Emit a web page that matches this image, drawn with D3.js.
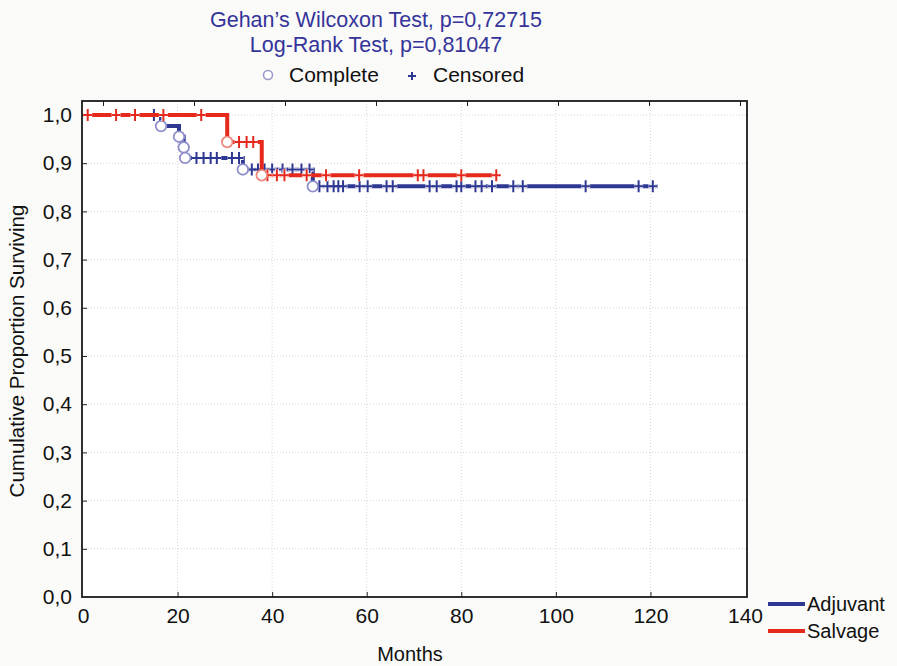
<!DOCTYPE html>
<html>
<head>
<meta charset="utf-8">
<script src="https://cdn.jsdelivr.net/npm/d3@7"></script>
<style>
  body { margin: 0; background: #fafaf8; }
  text { font-family: "Liberation Sans", Arial, sans-serif; }
</style>
</head>
<body>
<div id="chart"></div>
<script>
// Kaplan-Meier steps: [month, proportion surviving from that month on]
const adjuvantSteps = [[0, 1.0], [16.5, 0.977], [20.3, 0.955], [21.3, 0.933], [21.6, 0.911], [33.8, 0.887], [48.6, 0.852], [121.5, 0.852]];
const salvageSteps = [[0, 1.0], [30.5, 0.944], [37.8, 0.875], [87.5, 0.875]];

// complete (event) times
const adjuvantComplete = [16.5, 20.3, 21.3, 21.6, 33.8, 48.6];
const salvageComplete = [30.5, 37.8];

// censored times
const adjuvantCensored = [15, 24, 25.5, 27, 28.3, 31.5, 33, 35.7, 37, 38.4, 40, 42.2, 44.3, 46.2, 47.9,
  50, 51.7, 53, 54, 55, 58.5, 60.2, 64.2, 65.5, 73.3, 74.8, 79, 80, 83, 84.3, 86.5, 91, 93, 106.3, 117.5, 120.5];
const salvageCensored = [1, 7, 11, 17, 25, 33, 34.6, 36, 39, 41, 42.6, 47.3, 51.4, 58.4, 70.8, 72, 80, 87.4];

const xTicks = [0, 20, 40, 60, 80, 100, 120, 140];
const yTicks = [0, 0.1, 0.2, 0.3, 0.4, 0.5, 0.6, 0.7, 0.8, 0.9, 1.0];
const titles = ['Gehan\u2019s Wilcoxon Test, p=0,72715', 'Log-Rank Test, p=0,81047'];
const groups = ['Adjuvant', 'Salvage'];
const colors = { Adjuvant: '#2e3792', Salvage: '#e52a1d' };
const circleColors = { Adjuvant: '#8f8fcc', Salvage: '#ec8a80' };

const width = 897, height = 666;
const plotLeft = 82, plotRight = 747, plotTop = 101, plotBottom = 597;

const svg = d3.select('#chart')
  .append('svg')
  .attr('width', width)
  .attr('height', height);

svg.append('rect').attr('width', width).attr('height', height).attr('fill', '#fafaf8');

const x = d3.scaleLinear().domain([0, 140]).range([83, 745]);
const y = d3.scaleLinear().domain([0, 1]).range([597, 115]);

// plot background
svg.append('rect')
  .attr('x', plotLeft).attr('y', plotTop)
  .attr('width', plotRight - plotLeft).attr('height', plotBottom - plotTop)
  .attr('fill', '#ffffff');

// grid
svg.append('g')
  .selectAll('line')
  .data(yTicks.slice(1))
  .enter()
  .append('line')
  .attr('x1', plotLeft).attr('x2', plotRight)
  .attr('y1', d => y(d)).attr('y2', d => y(d))
  .attr('stroke', '#d8d8d8').attr('stroke-dasharray', '1,2');

svg.append('g')
  .selectAll('line')
  .data(xTicks.slice(1, -1))
  .enter()
  .append('line')
  .attr('y1', plotTop).attr('y2', plotBottom)
  .attr('x1', d => x(d)).attr('x2', d => x(d))
  .attr('stroke', '#d8d8d8').attr('stroke-dasharray', '1,2');

// X Axis
const xAxis = svg.append('g')
  .attr('transform', `translate(0,${plotBottom})`)
  .call(d3.axisBottom(x).tickValues(xTicks).tickSizeInner(-5).tickSizeOuter(0).tickPadding(11));
xAxis.select('.domain').remove();
xAxis.selectAll('line').attr('stroke', '#222');
xAxis.selectAll('text').attr('font-size', 21).attr('fill', '#111');
xAxis.selectAll('.tick').filter(d => d === 0 || d === 140).select('line').remove();

// Y Axis
const yAxis = svg.append('g')
  .attr('transform', `translate(${plotLeft},0)`)
  .call(d3.axisLeft(y).tickValues(yTicks).tickSizeInner(-5).tickSizeOuter(0).tickPadding(10)
    .tickFormat(d => d3.format('.1f')(d).replace('.', ',')));
yAxis.select('.domain').remove();
yAxis.selectAll('line').attr('stroke', '#222');
yAxis.selectAll('text').attr('font-size', 21).attr('fill', '#111');
yAxis.selectAll('.tick').filter(d => d === 0).select('line').remove();

// top ticks
const xTop = d3.scaleLinear().domain([0, 7]).range([103, 740]);
svg.append('g')
  .attr('transform', `translate(0,${plotTop})`)
  .call(d3.axisTop(xTop).ticks(7).tickSizeInner(-5).tickSizeOuter(0).tickFormat(''))
  .call(g => g.select('.domain').remove())
  .selectAll('line').attr('stroke', '#222');

// frame
svg.append('rect')
  .attr('x', plotLeft).attr('y', plotTop)
  .attr('width', plotRight - plotLeft).attr('height', plotBottom - plotTop)
  .attr('fill', 'none').attr('stroke', '#1a1a1a').attr('stroke-width', 1.8);

// survival value at a time
function survAt(steps, t) {
  let v = steps[0][1];
  steps.forEach(s => { if (s[0] <= t) v = s[1]; });
  return v;
}

const line = d3.line()
  .x(d => x(d[0]))
  .y(d => y(d[1]))
  .curve(d3.curveStepAfter);

const series = [
  { name: 'Adjuvant', steps: adjuvantSteps, complete: adjuvantComplete, censored: adjuvantCensored },
  { name: 'Salvage', steps: salvageSteps, complete: salvageComplete, censored: salvageCensored }
];

series.forEach(s => {
  const g = svg.append('g');

  g.append('path')
    .datum(s.steps)
    .attr('d', line)
    .attr('fill', 'none')
    .attr('stroke', colors[s.name])
    .attr('stroke-width', 4);

  // censored marks
  const plus = d => {
    const cx = x(d), cy = y(survAt(s.steps, d));
    return `M${cx - 4.5},${cy}H${cx + 4.5}M${cx},${cy - 6}V${cy + 6}`;
  };
  g.selectAll('path.halo')
    .data(s.censored)
    .enter()
    .append('path')
    .attr('class', 'halo')
    .attr('d', plus)
    .attr('stroke', '#ffffff')
    .attr('stroke-width', 4);
  g.selectAll('path.cens')
    .data(s.censored)
    .enter()
    .append('path')
    .attr('class', 'cens')
    .attr('d', plus)
    .attr('stroke', colors[s.name])
    .attr('stroke-width', 2);

  // complete marks
  g.selectAll('circle')
    .data(s.complete)
    .enter()
    .append('circle')
    .attr('cx', d => x(d))
    .attr('cy', d => y(survAt(s.steps, d)))
    .attr('r', 5.3)
    .attr('fill', '#ffffff')
    .attr('stroke', circleColors[s.name])
    .attr('stroke-width', 1.8);
});

// titles
svg.selectAll('text.title')
  .data(titles)
  .enter()
  .append('text')
  .attr('class', 'title')
  .attr('x', 376)
  .attr('y', (d, i) => 27 + i * 25)
  .attr('text-anchor', 'middle')
  .attr('font-size', 21.5)
  .attr('fill', '#34349a')
  .text(d => d);

// symbol legend
svg.append('circle')
  .attr('cx', 268).attr('cy', 75).attr('r', 4.5)
  .attr('fill', '#ffffff').attr('stroke', '#9a9acc').attr('stroke-width', 1.6);
svg.append('text').attr('x', 289).attr('y', 82).attr('font-size', 21).attr('fill', '#111').text('Complete');
svg.append('path')
  .attr('d', 'M408,76H416M412,72V80')
  .attr('stroke', '#2e3792').attr('stroke-width', 2);
svg.append('text').attr('x', 433).attr('y', 82).attr('font-size', 21).attr('fill', '#111').text('Censored');

// axis titles
svg.append('text')
  .attr('x', 410).attr('y', 661)
  .attr('text-anchor', 'middle')
  .attr('font-size', 20).attr('fill', '#111')
  .text('Months');

svg.append('text')
  .attr('transform', 'translate(24,351) rotate(-90)')
  .attr('text-anchor', 'middle')
  .attr('font-size', 20.5).attr('fill', '#111')
  .text('Cumulative Proportion Surviving');

// group legend
const legend = svg.append('g')
  .selectAll('g')
  .data(groups)
  .enter()
  .append('g')
  .attr('transform', (d, i) => `translate(768,${604 + i * 27})`);
legend.append('line')
  .attr('x1', 0).attr('x2', 37)
  .attr('stroke', d => colors[d]).attr('stroke-width', 4);
legend.append('text')
  .attr('x', 39).attr('y', 7)
  .attr('font-size', 20).attr('fill', '#111')
  .text(d => d);
</script>
</body>
</html>
